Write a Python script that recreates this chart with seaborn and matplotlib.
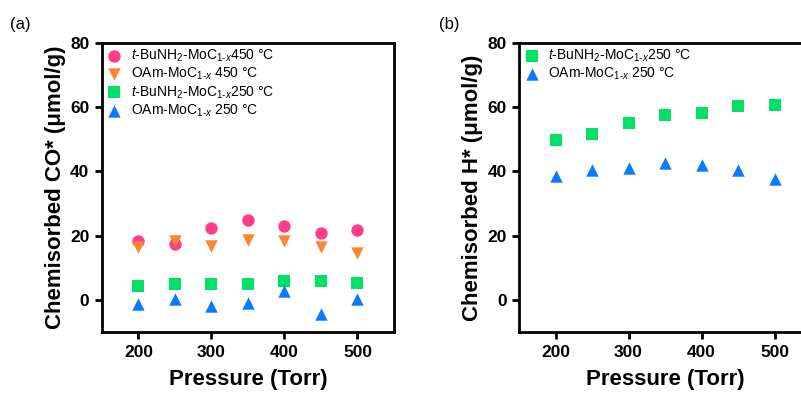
import matplotlib
matplotlib.use("Agg")
import matplotlib.pyplot as plt
import seaborn as sns
import pandas as pd

sns.set_theme(style="ticks")
plt.rcParams['font.family'] = ['Liberation Sans', 'DejaVu Sans']
plt.rcParams['mathtext.fontset'] = 'custom'
plt.rcParams['mathtext.rm'] = 'Liberation Sans'
plt.rcParams['mathtext.it'] = 'Liberation Sans:italic'
plt.rcParams['mathtext.bf'] = 'Liberation Sans:bold'
for k in ['text.color', 'axes.labelcolor', 'xtick.color', 'ytick.color', 'axes.edgecolor']:
    plt.rcParams[k] = 'black'

pressure = [200, 250, 300, 350, 400, 450, 500]

# Panel (a): chemisorbed CO*
co_tbu_450 = [18.3, 17.5, 22.3, 24.8, 22.9, 20.8, 21.9]
co_oam_450 = [16.5, 18.3, 16.8, 18.6, 18.4, 16.5, 14.7]
co_tbu_250 = [4.3, 4.9, 4.9, 4.9, 5.9, 5.9, 5.3]
co_oam_250 = [-1.4, 0.2, -1.9, -1.0, 2.7, -4.4, 0.4]

# Panel (b): chemisorbed H*
h_tbu_250 = [49.7, 51.8, 55.1, 57.5, 58.1, 60.4, 60.8]
h_oam_250 = [38.5, 40.4, 41.1, 42.5, 42.1, 40.4, 37.8]

lab_tbu_450 = r"$t$-BuNH$_2$-MoC$_{1\text{-}x}$450 °C"
lab_oam_450 = r"OAm-MoC$_{1\text{-}x}$ 450 °C"
lab_tbu_250 = r"$t$-BuNH$_2$-MoC$_{1\text{-}x}$250 °C"
lab_oam_250 = r"OAm-MoC$_{1\text{-}x}$ 250 °C"

pink = "#FF3D8B"
orange = "#FF8533"
green = "#00E065"
blue = "#0A7BFF"

yticks = [0, 20, 40, 60, 80]
xticks = [200, 300, 400, 500]

fig = plt.figure(figsize=(8.01, 3.93), dpi=100)
axa = fig.add_axes([0.1273, 0.1552, 0.3645, 0.7354])
axb = fig.add_axes([0.6480, 0.1552, 0.3645, 0.7354])

def series(ax, y, marker, color, label, size):
    df = pd.DataFrame({"p": pressure, "v": y})
    sns.scatterplot(data=df, x="p", y="v", ax=ax, marker=marker, color=color,
                    s=size, linewidth=0, label=label, zorder=3)

series(axa, co_tbu_450, "o", pink, lab_tbu_450, 80)
series(axa, co_oam_450, "v", orange, lab_oam_450, 80)
series(axa, co_tbu_250, "s", green, lab_tbu_250, 80)
series(axa, co_oam_250, "^", blue, lab_oam_250, 80)

series(axb, h_tbu_250, "s", green, lab_tbu_250, 80)
series(axb, h_oam_250, "^", blue, lab_oam_250, 80)

for ax, ylab in [(axa, "Chemisorbed CO* (μmol/g)"), (axb, "Chemisorbed H* (μmol/g)")]:
    ax.set_xlim(150, 550)
    ax.set_ylim(-10, 80)
    ax.set_xticks(xticks)
    ax.set_yticks(yticks)
    ax.tick_params(axis="both", direction="out", length=5, width=2,
                   labelsize=12.5, pad=4)
    for t in ax.get_xticklabels() + ax.get_yticklabels():
        t.set_fontweight("bold")
    for sp in ax.spines.values():
        sp.set_linewidth(2)
        sp.set_color("black")
    ax.set_xlabel("Pressure (Torr)", fontsize=16, fontweight="bold", labelpad=7)
    ax.set_ylabel(ylab, fontsize=16, fontweight="bold", labelpad=3)
    ax.legend(loc="upper left", frameon=False, fontsize=10, handletextpad=0.6,
              labelspacing=0.15, borderaxespad=0.0, handlelength=1.2,
              borderpad=0.3)

fig.text(0.012, 0.925, "(a)", fontsize=12)
fig.text(0.548, 0.925, "(b)", fontsize=12)

fig.savefig("out.png", dpi=100)
